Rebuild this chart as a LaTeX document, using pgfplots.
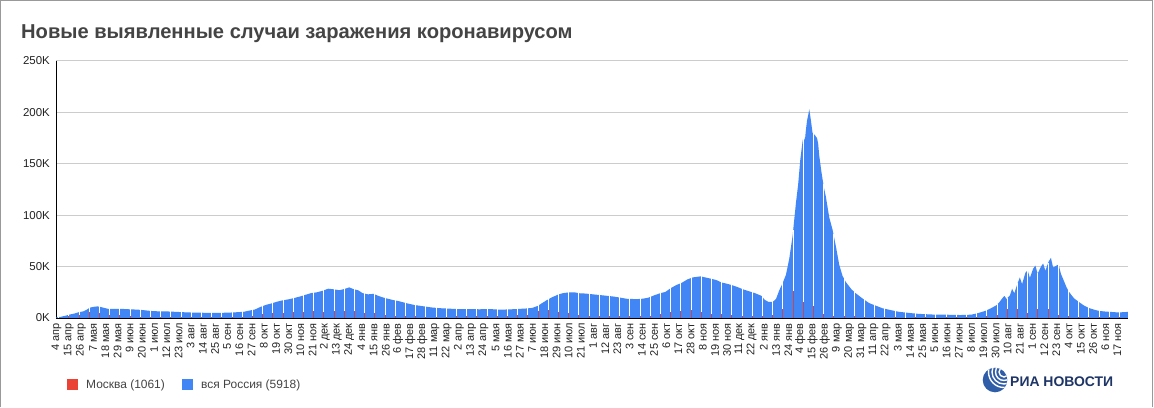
\documentclass[border=0pt]{standalone}
\usepackage{fontspec}
\setmainfont{Liberation Sans}
\usepackage{pgfplots}
\usepackage{pgfplotstable}
\pgfplotsset{compat=1.18}
\definecolor{gblue}{HTML}{4285F4}
\definecolor{gred}{HTML}{EA4335}
\definecolor{mred}{HTML}{C04858}
\definecolor{gridc}{HTML}{CCCCCC}
\definecolor{txt}{HTML}{444444}
\definecolor{lab}{HTML}{222222}
\definecolor{ria}{HTML}{1E3566}
\definecolor{globe}{HTML}{2F5DA8}

% day 0 = 4 Apr 2020; values in thousands
\pgfplotstableread{
d r
-0.5 0.5
0 0.6
4 1.2
8 2.2
12 3.4
16 4.3
20 5.6
24 6.4
27 7.9
30 10.0
33 10.8
37 11.3
41 10.4
46 9.0
51 8.9
57 9.0
62 8.7
67 8.4
72 8.2
77 7.8
82 7.2
88 6.6
95 6.5
102 6.3
109 5.9
117 5.5
125 5.2
133 5.1
140 4.9
148 5.0
154 5.2
159 5.4
164 5.7
169 6.1
174 7.2
179 8.3
184 10.8
189 12.8
194 14.2
199 15.9
204 17.2
210 18.3
215 19.6
220 21.0
225 22.7
230 24.3
235 25.0
240 26.5
245 28.5
250 27.9
255 27.0
260 28.3
264 29.8
268 28.0
272 27.0
276 24.2
281 23.0
286 23.5
291 21.2
296 19.5
303 17.6
309 16.3
316 14.3
323 12.6
331 11.4
338 10.3
345 9.6
352 9.2
362 8.7
371 8.7
381 8.5
392 8.6
401 8.1
411 8.5
423 9.2
429 9.8
434 11.7
437 13.8
442 17.2
447 20.2
453 23.0
457 24.2
462 24.9
467 25.0
472 24.0
477 23.8
484 23.0
493 22.0
503 20.8
515 18.6
524 18.4
529 18.8
534 19.8
539 22.0
545 24.3
549 25.2
554 29.0
559 32.0
564 34.2
569 37.5
574 39.5
581 40.5
585 39.5
590 38.3
595 37.0
600 34.5
606 33.0
610 31.7
615 29.8
620 27.6
625 25.9
630 24.2
636 21.5
639 17.5
642 15.8
646 15.6
649 18.5
652 27.0
655 34.0
658 42.0
661 58.0
664 80.0
667 112.0
669 130.0
671 155.0
673 172.0
674 177.0
675 172.0
676 183.0
677 192.0
678 197.0
679 203.0
680 196.0
681 188.0
682 180.0
684 178.0
686 175.0
687 170.0
688 158.0
690 142.0
692 128.0
694 118.0
697 98.0
700 86.0
703 70.0
706 52.0
709 41.0
712 35.0
717 28.0
721 24.0
727 19.0
733 14.5
739 12.0
745 9.5
752 7.8
760 6.0
770 4.8
778 4.0
790 3.4
803 3.2
815 2.9
821 3.0
826 3.4
832 5.0
838 7.0
843 9.5
848 12.5
851 16.0
853 19.0
855 21.5
857 18.5
860 22.0
862 28.5
864 24.0
867 34.0
869 39.5
871 33.0
874 44.0
876 46.5
878 39.0
881 48.0
883 51.0
885 43.0
888 50.0
890 53.0
892 46.0
895 55.0
897 58.5
899 49.0
902 51.0
904 52.0
906 43.0
908 38.0
911 30.0
913 26.0
915 23.0
918 19.0
923 15.0
927 12.0
932 9.4
937 7.8
941 6.8
946 6.3
950 6.0
955 5.6
959 5.5
963 5.7
966 5.9
966.5 5.9
}\russia

% columns: day, Russia height at that day, Moscow value (thousands)
\pgfplotstableread{
d r m
2.0 1.7 0.4
11.2 4.0 1.5
20.4 6.5 3.1
29.6 10.5 5.9
38.8 11.7 5.0
48.0 9.8 2.5
57.2 9.8 2.6
66.4 9.2 1.6
75.6 8.7 1.1
84.8 7.7 0.7
94.0 7.3 0.6
103.2 7.0 0.65
112.4 6.5 0.7
121.6 6.1 0.7
130.8 5.9 0.65
140.0 5.7 0.68
149.2 5.8 0.7
158.4 6.2 0.8
167.6 6.8 1.1
176.8 8.6 2.0
186.0 12.4 4.3
195.2 15.4 4.6
204.4 18.1 5.2
213.6 20.0 5.5
222.8 22.8 5.9
232.0 25.4 7.2
241.2 27.8 6.0
250.4 28.6 6.5
259.6 29.0 6.4
268.8 28.6 6.7
278.0 24.5 5.0
287.2 23.8 4.5
296.4 20.2 2.5
305.6 17.8 2.3
314.8 15.4 1.8
324.0 13.2 1.6
333.2 11.9 1.3
342.4 10.7 1.4
351.6 10.0 1.2
360.8 9.6 1.6
370.0 9.5 2.0
379.2 9.3 2.2
388.4 9.4 2.1
397.6 9.1 1.6
406.8 9.1 2.4
416.0 9.6 2.6
425.2 10.2 3.0
434.4 12.8 6.7
443.6 19.0 7.7
452.8 23.7 5.9
462.0 25.7 5.2
471.2 25.0 3.1
480.4 24.2 2.4
489.6 23.2 2.0
498.8 22.1 1.9
508.0 20.7 2.0
517.2 19.4 1.8
526.4 19.4 2.1
535.6 21.3 2.4
544.8 25.0 4.3
554.0 29.8 5.5
563.2 34.6 7.2
572.4 39.7 7.7
581.6 41.2 5.4
590.8 38.9 3.8
600.0 35.3 3.7
609.2 32.8 3.0
618.4 29.1 2.2
627.6 25.8 1.9
636.8 21.2 1.8
646.0 16.4 2.6
655.2 35.5 9.0
664.4 86.0 25.8
673.6 177.0 15.5
682.8 181.0 11.6
692.0 130.0 3.5
701.2 82.0 2.0
710.4 39.5 1.5
719.6 26.4 1.8
728.8 18.5 1.2
738.0 13.2 0.9
747.2 9.8 0.8
756.4 7.6 0.6
765.6 6.1 0.4
774.8 5.1 0.5
784.0 4.5 0.5
793.2 4.1 0.4
802.4 4.0 0.5
811.6 3.8 0.6
820.8 3.8 0.9
830.0 5.3 1.2
839.2 8.4 1.5
848.4 13.8 3.0
857.6 19.6 8.7
866.8 34.2 8.4
876.0 47.5 5.2
885.2 43.6 8.7
894.4 53.6 8.7
903.6 52.6 3.0
912.8 27.2 2.0
922.0 16.6 1.4
931.2 10.6 1.1
940.4 7.7 1.0
949.6 6.8 1.0
958.8 6.3 1.0
}\stripes

\begin{document}
\begin{tikzpicture}[x=1bp,y=1bp]
\path[use as bounding box, fill=white] (0,0) rectangle (1154,407);
\draw[color=black!40, line width=1.2bp] (0.8,0) -- (0.8,406.2) -- (1152.2,406.2) -- (1152.2,0);
\node[anchor=base west, inner sep=0pt, font=\bfseries\fontsize{20.2}{24}\selectfont, text=txt]
  at (21,369) {Новые выявленные случаи заражения коронавирусом};
\begin{scope}[shift={(56bp,89bp)}]
\begin{axis}[
  at={(0,0)}, anchor=south west, scale only axis,
  width=1072bp, height=257bp,
  xmin=-0.5, xmax=966.5, ymin=0, ymax=250,
  axis x line*=bottom, axis y line*=left,
  axis line style={draw=black, line width=1bp, -},
  ymajorgrids, grid style={gridc, line width=1bp},
  major tick length=0pt,
  /pgf/number format/assume math mode=true,
  xtick={0,11,...,957},
  xticklabels={4 апр,15 апр,26 апр,7 мая,18 мая,29 мая,9 июн,20 июн,1 июл,12 июл,23 июл,3 авг,14 авг,25 авг,5 сен,16 сен,27 сен,8 окт,19 окт,30 окт,10 ноя,21 ноя,2 дек,13 дек,24 дек,
    4 янв,15 янв,26 янв,6 фев,17 фев,28 фев,11 мар,22 мар,2 апр,13 апр,24 апр,5 мая,16 мая,27 мая,7 июн,18 июн,29 июн,10 июл,21 июл,1 авг,12 авг,23 авг,3 сен,14 сен,25 сен,6 окт,17 окт,28 окт,8 ноя,19 ноя,30 ноя,11 дек,22 дек,
    2 янв,13 янв,24 янв,4 фев,15 фев,26 фев,9 мар,20 мар,31 мар,11 апр,22 апр,3 мая,14 мая,25 мая,5 июн,16 июн,27 июн,8 июл,19 июл,30 июл,10 авг,21 авг,1 сен,12 сен,23 сен,4 окт,15 окт,26 окт,6 ноя,17 ноя},
  xticklabel style={rotate=90, anchor=east, font=\fontsize{11}{11}\selectfont, text=lab, inner xsep=5bp, inner ysep=0pt},
  ytick={0,50,...,250},
  yticklabels={0K,50K,100K,150K,200K,250K},
  yticklabel style={font=\fontsize{11.5}{12}\selectfont, text=lab, inner sep=0pt, xshift=-6bp},
]
\addplot[fill=gblue, draw=none, sharp plot] table[x=d, y=r] {\russia} \closedcycle;
\addplot[ycomb, draw=white, line width=1bp, mark=none] table[x=d, y=r] {\stripes};
\addplot[ycomb, draw=mred, line width=1bp, mark=none] table[x=d, y=m] {\stripes};
\draw[black, line width=1bp] (axis cs:-0.5,0) -- (axis cs:966.5,0);
\end{axis}
\end{scope}
% legend
\fill[gred] (67,17) rectangle (78,28);
\node[anchor=base west, inner sep=0pt, font=\fontsize{12}{12}\selectfont, text=txt] at (86,19) {Москва (1061)};
\fill[gblue] (182,17) rectangle (193,28);
\node[anchor=base west, inner sep=0pt, font=\fontsize{12}{12}\selectfont, text=txt] at (201,19) {вся Россия (5918)};
% logo
\fill[globe] (995,27) circle (12.3);
\begin{scope}
  \clip (995,27) circle (12.3);
  \foreach \rr in {5,8.5,12,15.5} {\draw[white, line width=1.4bp] (1004,35) circle (\rr);}
\end{scope}
\node[anchor=base west, inner sep=0pt, font=\bfseries\fontsize{14}{14}\selectfont, text=ria] at (1010,21) {РИА НОВОСТИ};
\end{tikzpicture}
\end{document}
